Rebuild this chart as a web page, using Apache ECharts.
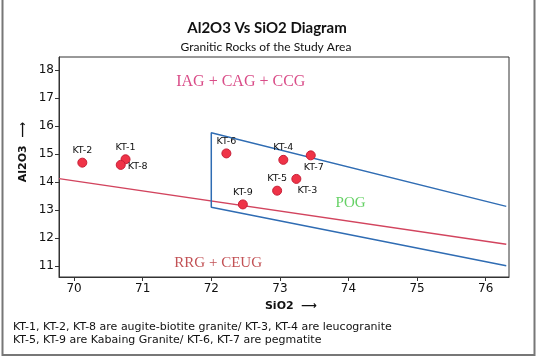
<!DOCTYPE html>
<html>
<head>
<meta charset="utf-8">
<script src="https://cdn.jsdelivr.net/npm/echarts@6/dist/echarts.min.js"></script>
<style>
html,body{margin:0;padding:0;background:#fff;}
#chart{width:536px;height:357px;}
</style>
</head>
<body>
<div id="chart"></div>
<script>
// ---- data ----
var sampleNames = ['KT-1','KT-2','KT-3','KT-4','KT-5','KT-6','KT-7','KT-8','KT-9'];
var sio2Values  = [70.75, 70.12, 73.24, 73.05, 72.96, 72.22, 73.45, 70.68, 72.46];
var al2o3Values = [14.81, 14.69, 14.11, 14.79, 13.69, 15.02, 14.95, 14.61, 13.20];

var rrgLineX = [69.78, 76.30];
var rrgLineY = [14.12, 11.78];

var pogBoxX = [76.30, 72.00, 72.00, 76.30];
var pogBoxY = [13.13, 15.76, 13.10, 11.01];

var fieldNames = ['IAG + CAG + CCG', 'POG', 'RRG + CEUG'];
var fieldX = [72.43, 74.03, 72.10];
var fieldY = [17.57, 13.26, 11.10];

var xTicks = [70, 71, 72, 73, 74, 75, 76];
var yTicks = [11, 12, 13, 14, 15, 16, 17, 18];

var titleText = 'Al2O3 Vs SiO2 Diagram';
var subtitleText = 'Granitic Rocks of the Study Area';
var xName = 'SiO2';
var yName = 'Al2O3';
var noteLines = [
  'KT-1, KT-2, KT-8 are augite-biotite granite/ KT-3, KT-4 are leucogranite',
  'KT-5, KT-9 are Kabaing Granite/ KT-6, KT-7 are pegmatite'
];

// ---- styles (label placement per sample) ----
var labelStyle = {
  'KT-1': {position: 'top', offset: [0, 0]},
  'KT-2': {position: 'top', offset: [0, 0]},
  'KT-3': {position: 'bottom', offset: [11, 0]},
  'KT-4': {position: 'top', offset: [0, 0]},
  'KT-5': {position: 'top', offset: [0, 0]},
  'KT-6': {position: 'top', offset: [0, 0]},
  'KT-7': {position: 'bottom', offset: [3, 0]},
  'KT-8': {position: 'right', offset: [0, 2]},
  'KT-9': {position: 'top', offset: [0, 0]}
};
var fieldColors = ['#d0206a', '#3fc63f', '#b3262a'];
var fieldSizes = [16, 15, 15];

var points = sampleNames.map(function (n, i) {
  var s = labelStyle[n];
  return {value: [sio2Values[i], al2o3Values[i]], name: n,
          label: {position: s.position, offset: s.offset}};
});
var fields = fieldNames.map(function (n, i) {
  return {value: [fieldX[i], fieldY[i]], name: n,
          label: {color: fieldColors[i], fontSize: fieldSizes[i]}};
});

var chart = echarts.init(document.getElementById('chart'), null, {renderer: 'canvas'});
var font = 'DejaVu Sans';
chart.setOption({
  animation: false,
  backgroundColor: '#fff',
  title: [
    {text: titleText, left: 262, top: 16, textAlign: 'center',
     textStyle: {fontFamily: 'Lato', fontSize: 15, fontWeight: 'bold', color: '#111'}},
    {text: subtitleText, left: 261, top: 36, textAlign: 'center',
     textStyle: {fontFamily: 'Lato', fontSize: 12, fontWeight: 'normal', color: '#111'}}
  ],
  grid: {left: 59, right: 27, top: 57, bottom: 80, show: true, borderColor: '#333', borderWidth: 1},
  xAxis: {
    type: 'value', min: 69.78, max: 76.34,
    axisLine: {onZero: false, lineStyle: {color: '#333'}},
    splitLine: {show: false},
    axisTick: {show: true, length: 4, customValues: xTicks, lineStyle: {color: '#333'}},
    axisLabel: {customValues: xTicks, fontFamily: font, fontSize: 12, color: '#111', margin: 6}
  },
  yAxis: {
    type: 'value', min: 10.61, max: 18.46,
    axisLine: {onZero: false, lineStyle: {color: '#333'}},
    splitLine: {show: false},
    axisTick: {show: true, length: 4, customValues: yTicks, lineStyle: {color: '#333'}},
    axisLabel: {customValues: yTicks, fontFamily: font, fontSize: 12, color: '#111', margin: 5}
  },
  graphic: [
    {type: 'rect', shape: {x: 2.5, y: -2, width: 532, height: 357}, style: {fill: 'none', stroke: '#777', lineWidth: 2}, silent: true},
    {type: 'text', x: 291, y: 306, style: {text: xName + '  ⟶', font: 'bold 11px "DejaVu Sans"', fill: '#111', textAlign: 'center', textVerticalAlign: 'middle'}},
    {type: 'text', x: 23, y: 152, rotation: Math.PI / 2, style: {text: yName + '  ⟶', font: 'bold 11px "DejaVu Sans"', fill: '#111', textAlign: 'center', textVerticalAlign: 'middle'}},
    {type: 'text', x: 13, y: 327, style: {text: noteLines[0], font: '11px "DejaVu Sans"', fill: '#111', textVerticalAlign: 'middle'}},
    {type: 'text', x: 13, y: 340, style: {text: noteLines[1], font: '11px "DejaVu Sans"', fill: '#111', textVerticalAlign: 'middle'}}
  ],
  series: [
    {type: 'line', data: rrgLineX.map(function (x, i) { return [x, rrgLineY[i]]; }),
     symbol: 'none', lineStyle: {color: '#d2445e', width: 1.5}, z: 2},
    {type: 'line', data: pogBoxX.map(function (x, i) { return [x, pogBoxY[i]]; }),
     symbol: 'none', lineStyle: {color: '#2f6cb3', width: 1.5}, z: 2},
    {type: 'scatter', data: points, symbol: 'circle', symbolSize: 9,
     itemStyle: {color: '#ef3347', borderColor: '#c81e36', borderWidth: 1, opacity: 1},
     label: {show: true, formatter: '{b}', fontFamily: font, fontSize: 9.5, color: '#111', distance: 2},
     z: 5},
    {type: 'scatter', data: fields, symbolSize: 0,
     label: {show: true, position: 'inside', formatter: '{b}', fontFamily: '"Liberation Serif", "DejaVu Serif", serif'},
     z: 4}
  ]
});
</script>
</body>
</html>
